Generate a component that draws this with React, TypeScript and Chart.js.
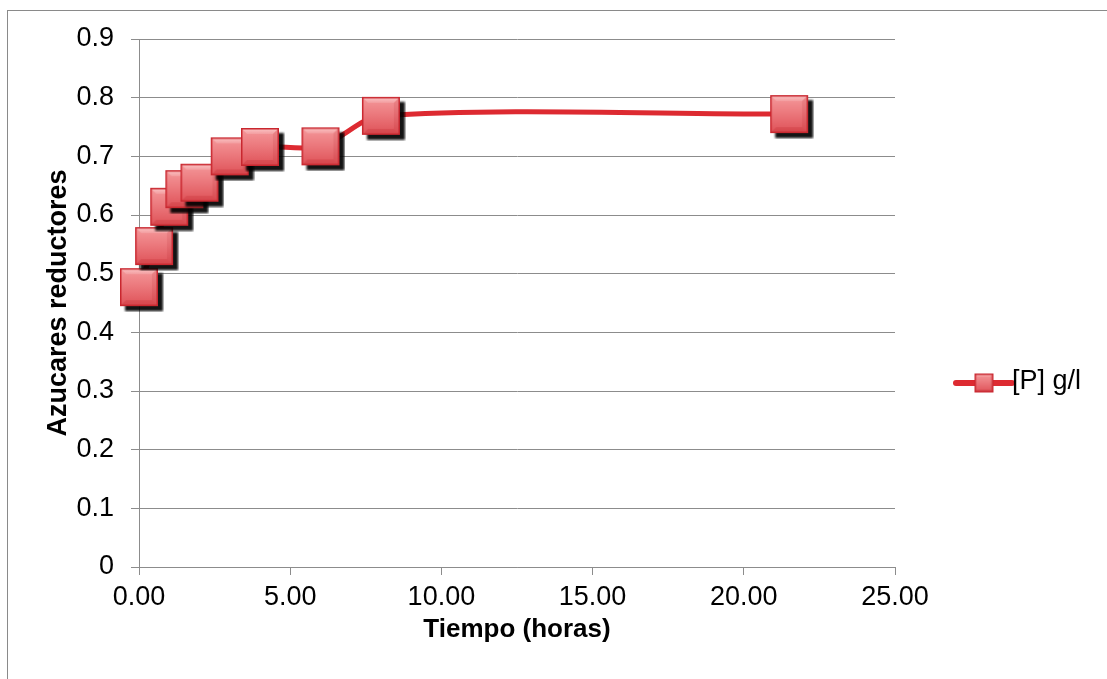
import React, { useEffect, useRef } from "react";
import { Chart, registerables } from "chart.js";

Chart.register(...registerables);

const timeHours = [0, 0.5, 1, 1.5, 2, 3, 4, 6, 8, 21.5];
const sugarValues = [0.477, 0.547, 0.614, 0.644, 0.655, 0.7, 0.716, 0.717, 0.769, 0.772];
const seriesLabel = "[P] g/l";
const xTitle = "Tiempo (horas)";
const yTitle = "Azucares reductores";
const xMin = 0;
const xMax = 25;
const xStep = 5;
const yMin = 0;
const yMax = 0.9;
const yStep = 0.1;

const LINE_COLOR = "#dd2a31";
const GRID_COLOR = "#8c8c8c";
const FONT = "'Liberation Sans', Arial, sans-serif";

function makeMarker(side: number, shadow: number): HTMLCanvasElement {
  const pad = shadow + 1;
  const size = side + pad * 2;
  const c = document.createElement("canvas");
  c.width = size;
  c.height = size;
  const ctx = c.getContext("2d")!;
  const s0 = pad;
  const s1 = pad + side;
  if (shadow > 0) {
    ctx.save();
    ctx.filter = "blur(1px)";
    ctx.fillStyle = "rgba(0,0,0,0.92)";
    ctx.fillRect(s0 + shadow, s0 + shadow, side, side);
    ctx.restore();
  }
  const g = ctx.createLinearGradient(0, s0, 0, s1);
  g.addColorStop(0, "#f59a9c");
  g.addColorStop(0.45, "#ec7a7e");
  g.addColorStop(1, "#df5157");
  ctx.fillStyle = g;
  ctx.fillRect(s0, s0, side, side);
  const b = Math.max(3, side * 0.16);
  // top bevel
  const tg = ctx.createLinearGradient(0, s0, 0, s0 + b);
  tg.addColorStop(0, "rgba(255,235,235,0.55)");
  tg.addColorStop(1, "rgba(255,235,235,0.15)");
  ctx.fillStyle = tg;
  ctx.beginPath();
  ctx.moveTo(s0, s0);
  ctx.lineTo(s1, s0);
  ctx.lineTo(s1 - b, s0 + b);
  ctx.lineTo(s0 + b, s0 + b);
  ctx.closePath();
  ctx.fill();
  // right bevel
  ctx.fillStyle = "rgba(160,0,10,0.10)";
  ctx.beginPath();
  ctx.moveTo(s1, s0);
  ctx.lineTo(s1, s1);
  ctx.lineTo(s1 - b, s1 - b);
  ctx.lineTo(s1 - b, s0 + b);
  ctx.closePath();
  ctx.fill();
  // bottom bevel
  ctx.fillStyle = "rgba(160,0,10,0.14)";
  ctx.beginPath();
  ctx.moveTo(s0, s1);
  ctx.lineTo(s1, s1);
  ctx.lineTo(s1 - b, s1 - b);
  ctx.lineTo(s0 + b, s1 - b);
  ctx.closePath();
  ctx.fill();
  ctx.strokeStyle = "#c9272f";
  ctx.lineWidth = 1.5;
  ctx.strokeRect(s0 + 0.75, s0 + 0.75, side - 1.5, side - 1.5);
  return c;
}

export default function App() {
  const ref = useRef<HTMLCanvasElement | null>(null);

  useEffect(() => {
    if (!ref.current) return;
    const marker = makeMarker(38, 5);
    const legendMarker = makeMarker(19, 0);

    const legendPlugin = {
      id: "sideLegend",
      afterDraw(chart: any) {
        const { ctx, chartArea } = chart;
        const cy = (chartArea.top + chartArea.bottom) / 2 + 80;
        const x0 = chartArea.right + 61;
        ctx.save();
        ctx.strokeStyle = LINE_COLOR;
        ctx.lineWidth = 6;
        ctx.lineCap = "round";
        ctx.beginPath();
        ctx.moveTo(x0, cy);
        ctx.lineTo(x0 + 56, cy);
        ctx.stroke();
        ctx.drawImage(legendMarker, x0 + 28 - legendMarker.width / 2, cy - legendMarker.height / 2);
        ctx.fillStyle = "#000";
        ctx.font = `27px ${FONT}`;
        ctx.textBaseline = "middle";
        ctx.textAlign = "left";
        ctx.fillText(seriesLabel, x0 + 56, cy - 1);
        ctx.restore();
      },
    };

    const chart = new Chart(ref.current, {
      type: "line",
      data: {
        datasets: [
          {
            label: seriesLabel,
            data: timeHours.map((t, i) => ({ x: t, y: sugarValues[i] })),
            borderColor: LINE_COLOR,
            backgroundColor: LINE_COLOR,
            borderWidth: 5,
            tension: 0.3,
            pointStyle: marker as any,
            pointRadius: 20,
            pointHoverRadius: 20,
            clip: false as any,
            fill: false,
          },
        ],
      },
      options: {
        animation: false,
        responsive: false,
        events: [],
        layout: { padding: { left: 0, top: 39, right: 212, bottom: 0 } },
        plugins: {
          legend: { display: false },
          tooltip: { enabled: false },
        },
        scales: {
          x: {
            type: "linear",
            min: xMin,
            max: xMax,
            afterFit(scale: any) {
              scale.height = 112;
            },
            ticks: {
              stepSize: xStep,
              color: "#000",
              padding: 6,
              font: { family: FONT, size: 27 },
              callback: (v: any) => Number(v).toFixed(2),
              maxRotation: 0,
            },
            grid: {
              drawOnChartArea: false,
              drawTicks: true,
              tickLength: 8,
              color: GRID_COLOR,
            },
            border: { display: true, color: GRID_COLOR, width: 1 },
            title: {
              display: true,
              text: xTitle,
              color: "#000",
              font: { family: FONT, size: 26, weight: "bold" },
              padding: { top: 0, bottom: 34 },
            },
          },
          y: {
            type: "linear",
            min: yMin,
            max: yMax,
            afterFit(scale: any) {
              scale.width = 139;
            },
            ticks: {
              stepSize: yStep,
              color: "#000",
              padding: 17,
              font: { family: FONT, size: 27 },
              callback: (v: any) => (Number(v) === 0 ? "0" : Number(v).toFixed(1)),
            },
            grid: {
              drawTicks: true,
              tickLength: 8,
              color: GRID_COLOR,
            },
            border: { display: true, color: GRID_COLOR, width: 1 },
            title: {
              display: true,
              text: yTitle,
              color: "#000",
              font: { family: FONT, size: 27, weight: "bold" },
              padding: { top: 42, bottom: 0 },
            },
          },
        },
      },
      plugins: [legendPlugin],
    });
    return () => chart.destroy();
  }, []);

  return (
    <div style={{ position: "fixed", left: 0, top: 0, width: 1107, height: 679, background: "#fff" }}>
      <div
        style={{
          position: "absolute",
          left: 7,
          top: 10,
          width: 1200,
          height: 800,
          borderLeft: "1px solid #8a8a8a",
          borderTop: "1px solid #8a8a8a",
          pointerEvents: "none",
        }}
      />
      <canvas ref={ref} width={1107} height={679} style={{ position: "absolute", left: 0, top: 0, display: "block" }} />
    </div>
  );
}
